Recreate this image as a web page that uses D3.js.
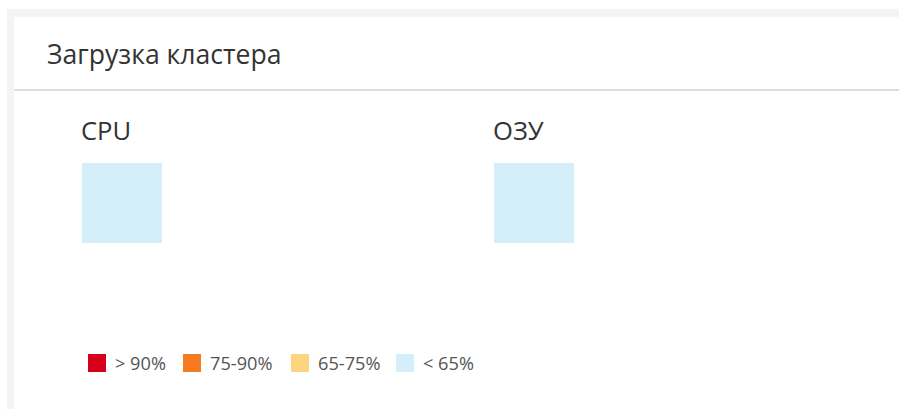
<!DOCTYPE html>
<html><head><meta charset="utf-8">
<script src="https://cdn.jsdelivr.net/npm/d3@7"></script>
<style>html,body{margin:0;padding:0;background:#fff;overflow:hidden}</style>
</head><body>
<svg id="c" width="899" height="409"></svg>
<script>
const title = "Загрузка кластера";
const categories = ["CPU", "ОЗУ"];
const loadValues = [20, 25];
const thresholds = [65, 75, 90];
const legendLabels = ["> 90%", "75-90%", "65-75%", "< 65%"];
const legendColors = ["#d7001b", "#f47b20", "#fdd57e", "#d4eff9"];

const svg = d3.select("#c");
const font = "'Open Sans', sans-serif";

svg.append("rect").attr("x", 7).attr("y", 9).attr("width", 892).attr("height", 400).attr("fill", "#f4f4f4");
svg.append("rect").attr("x", 14).attr("y", 17).attr("width", 885).attr("height", 392).attr("fill", "#fff");
svg.append("rect").attr("x", 14).attr("y", 89).attr("width", 885).attr("height", 2).attr("fill", "#dddddd");

svg.append("text").attr("x", 47).attr("y", 64).attr("font-family", font).attr("font-size", 26.6)
  .attr("fill", "#333").text(title);

const color = d3.scaleThreshold().domain(thresholds).range(legendColors.slice().reverse());

const x = d3.scalePoint().domain(categories).range([82, 494]);
const g = svg.selectAll("g.cell").data(categories).join("g").attr("class", "cell")
  .attr("transform", d => `translate(${x(d)},0)`);
g.append("text").attr("x", -1).attr("y", 140).attr("font-family", font).attr("font-size", 25.6)
  .attr("fill", "#333").text(d => d);
g.append("rect").attr("x", 0).attr("y", 163).attr("width", 80).attr("height", 80)
  .attr("fill", (d, i) => color(loadValues[i]));

const lx = [88, 183, 291, 396];
const lg = svg.selectAll("g.leg").data(legendLabels).join("g").attr("class", "leg")
  .attr("transform", (d, i) => `translate(${lx[i]},354)`);
lg.append("rect").attr("width", 18).attr("height", 18).attr("fill", (d, i) => legendColors[i]);
lg.append("text").attr("x", 27).attr("y", 16).attr("font-family", font).attr("font-size", 18.2)
  .attr("fill", "#555").text(d => d);
</script>
</body></html>
